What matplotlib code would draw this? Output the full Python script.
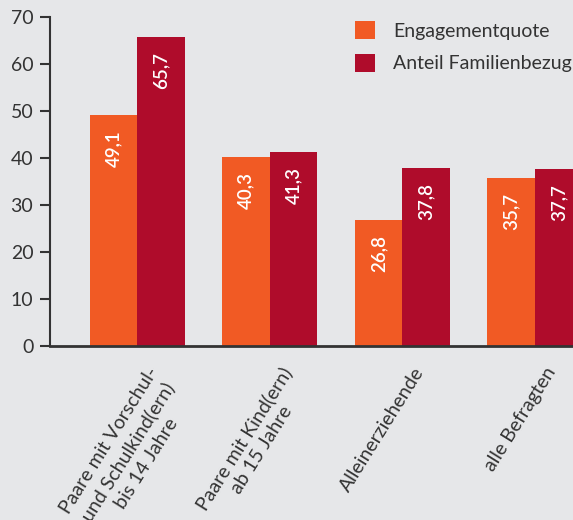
import matplotlib
matplotlib.use("Agg")
import matplotlib.pyplot as plt
from matplotlib.patches import Patch
from matplotlib.transforms import offset_copy
import numpy as np

categories = ["Paare mit Vorschul-\nund Schulkind(ern)\nbis 14 Jahre",
              "Paare mit Kind(ern)\nab 15 Jahre",
              "Alleinerziehende",
              "alle Befragten"]
engagement = [49.1, 40.3, 26.8, 35.7]
familie = [65.7, 41.3, 37.8, 37.7]
series_names = ["Engagementquote", "Anteil Familienbezug"]
yticks = [0, 10, 20, 30, 40, 50, 60, 70]

BG = "#e6e7e9"
ORANGE = "#f15a24"
RED = "#af0c2b"
TXT = "#333333"

plt.rcParams['font.family'] = ['Lato', 'DejaVu Sans']

fig = plt.figure(figsize=(5.73, 5.20), dpi=100, facecolor=BG)
ax = fig.add_axes([50/573, 174/520, 572/573, 329/520], facecolor=BG)

x = np.arange(len(categories))
w = 0.358
b1 = ax.bar(x - w/2, engagement, width=w, color=ORANGE, linewidth=0)
b2 = ax.bar(x + w/2, familie, width=w, color=RED, linewidth=0)

for bars, vals in ((b1, engagement), (b2, familie)):
    for rect, v in zip(bars, vals):
        tr = offset_copy(ax.transData, fig=fig, x=0, y=-15, units='dots')
        ax.text(rect.get_x() + rect.get_width()/2, v, f"{v:.1f}".replace('.', ','),
                rotation=90, ha='center', va='top', color='white',
                fontsize=13.5, fontweight='semibold', transform=tr)

ax.set_xlim(-0.656, 3.656)
ax.set_ylim(0, 70)
ax.set_yticks(yticks)
ax.set_yticklabels([str(t) for t in yticks], fontsize=14, color=TXT)
ax.tick_params(axis='y', length=7, width=1.5, color=TXT, pad=5)
ax.tick_params(axis='x', length=0)
ax.set_xticks([])

for s in ('top', 'right'):
    ax.spines[s].set_visible(False)
ax.spines['left'].set_color(TXT)
ax.spines['left'].set_linewidth(1.5)
ax.spines['bottom'].set_color(TXT)
ax.spines['bottom'].set_linewidth(2)

for xi, lab in zip(x, categories):
    tr = offset_copy(ax.transData, fig=fig, x=10, y=-18, units='dots')
    ax.text(xi, 0, lab, rotation=58, rotation_mode='anchor', ha='right', va='top',
            multialignment='center', fontsize=14, color=TXT, transform=tr,
            linespacing=1.3)

handles = [Patch(facecolor=ORANGE), Patch(facecolor=RED)]
leg = fig.legend(handles, series_names, loc='upper left',
                 bbox_to_anchor=(355/573, 1 - 21/520), frameon=False,
                 fontsize=14, handlelength=1.05, handleheight=1.05,
                 handletextpad=0.9, labelspacing=0.72, borderaxespad=0, borderpad=0)
for t in leg.get_texts():
    t.set_color(TXT)

fig.savefig("out.png", dpi=100, facecolor=BG)
